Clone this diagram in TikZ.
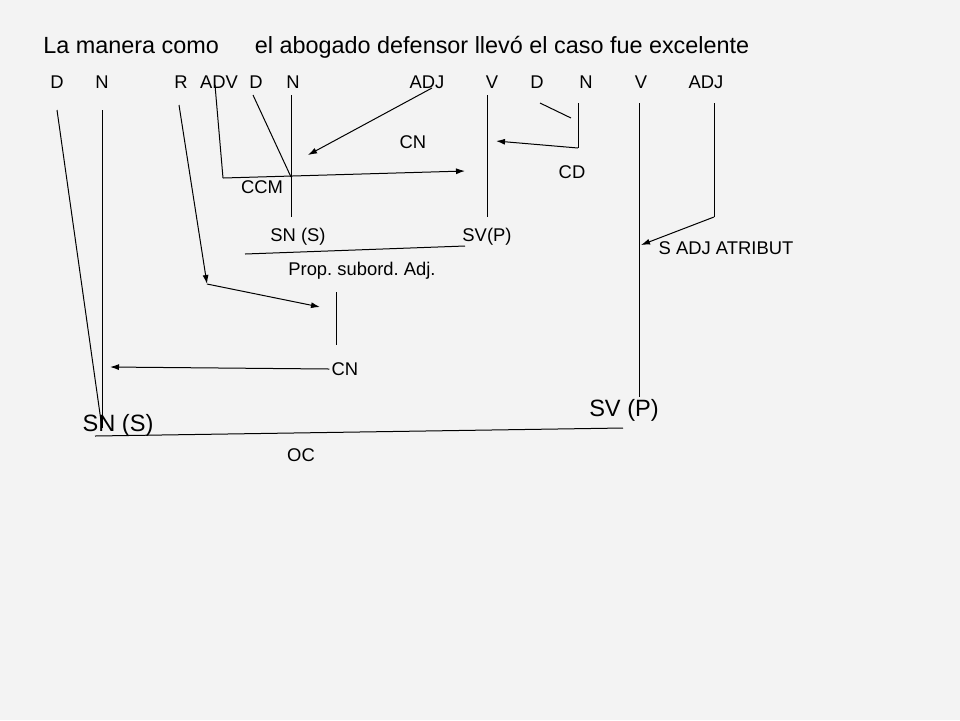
\documentclass[tikz,border=0pt]{standalone}
\usepackage{fontspec}
\setmainfont{Liberation Sans}
\usetikzlibrary{arrows.meta}
\definecolor{paper}{RGB}{243,243,243}
\frenchspacing

\begin{document}
\begin{tikzpicture}[x=0.5pt, y=-0.5pt,
  sentence/.style={font=\fontsize{11.7}{14}\selectfont, inner sep=0pt, anchor=west},
  cat/.style={font=\fontsize{9.2}{11}\selectfont, inner sep=1pt},
  fn/.style={font=\fontsize{9.2}{11}\selectfont, inner sep=1pt},
  big/.style={font=\fontsize{11.8}{13}\selectfont, inner sep=1pt},
  ln/.style={line width=0.5pt},
  arr/.style={-{Latex[length=4.5pt,width=3pt]}, line width=0.5pt}
]
  \useasboundingbox (0,0) rectangle (960,720);
  \fill[paper] (0,0) rectangle (960,720);

  % Sentence and word classes
  \node[sentence] at (43,47) (sent)
    {La manera como\hspace{18pt}el abogado defensor llevó el caso fue excelente};
  \node[cat] at (57,82)  (dA)   {D};
  \node[cat] at (102,82) (nA)   {N};
  \node[cat] at (181,82) (rel)  {R};
  \node[cat] at (219,82) (adv)  {ADV};
  \node[cat] at (256,82) (dB)   {D};
  \node[cat] at (293,82) (nB)   {N};
  \node[cat] at (427,82) (adjA) {ADJ};
  \node[cat] at (492,82) (vA)   {V};
  \node[cat] at (537,82) (dC)   {D};
  \node[cat] at (586,82) (nC)   {N};
  \node[cat] at (641,82) (vB)   {V};
  \node[cat] at (706,82) (adjB) {ADJ};

  % Functions
  \node[fn] at (413,142) (cnA)    {CN};
  \node[fn] at (262,187) (ccm)    {CCM};
  \node[fn] at (572,172) (cd)     {CD};
  \node[fn] at (298,237) (snS)    {SN (S)};
  \node[fn] at (487,237) (svP)    {SV(P)};
  \node[fn] at (362,271) (prop)   {Prop. subord. Adj.};
  \node[fn] at (726,248) (atrib)  {S ADJ ATRIBUT};
  \node[fn] at (345,369) (cnB)    {CN};
  \node[big] at (118,425) (snBig) {SN (S)};
  \node[big] at (624,410) (svBig) {SV (P)};
  \node[fn] at (301,455) (oc)     {OC};

  % Line ends
  \coordinate (dA-top)   at (57,110);
  \coordinate (nA-top)   at (102,110);
  \coordinate (sn-root)  at (102,428);
  \coordinate (rel-top)  at (179,105);
  \coordinate (rel-bend) at (207,284);
  \coordinate (rel-tip)  at (320,307);
  \coordinate (prop-a)   at (336,292);
  \coordinate (prop-b)   at (336,345);
  \coordinate (cn-tip)   at (110,367);
  \coordinate (adv-top)  at (215,85);
  \coordinate (adv-bend) at (223,178);
  \coordinate (adv-tip)  at (465,171);
  \coordinate (dB-top)   at (253,95);
  \coordinate (nB-top)   at (291,95);
  \coordinate (nB-root)  at (291,177);
  \coordinate (nB-bot)   at (291,217);
  \coordinate (adjA-top) at (432,88);
  \coordinate (adjA-tip) at (308,155);
  \coordinate (vA-top)   at (487,95);
  \coordinate (vA-bot)   at (487,217);
  \coordinate (sub-l)    at (245,254);
  \coordinate (sub-r)    at (465,246);
  \coordinate (dC-top)   at (540,103);
  \coordinate (dC-bot)   at (571,118);
  \coordinate (nC-top)   at (578,103);
  \coordinate (nC-bend)  at (578,148);
  \coordinate (nC-tip)   at (496,141);
  \coordinate (vB-top)   at (639,103);
  \coordinate (vB-bot)   at (639,397);
  \coordinate (adjB-top) at (714,103);
  \coordinate (adjB-bend) at (714,217);
  \coordinate (adjB-tip) at (641,245);
  \coordinate (oc-l)     at (95,436);
  \coordinate (oc-r)     at (623,428);

  % Subordinate clause
  \draw[ln]  (adv-top) -- (adv-bend);
  \draw[arr] (adv-bend) -- (adv-tip);
  \draw[ln]  (dB-top) -- (nB-root);
  \draw[ln]  (nB-top) -- (nB-bot);
  \draw[arr] (adjA-top) -- (adjA-tip);
  \draw[ln]  (vA-top) -- (vA-bot);
  \draw[ln]  (dC-top) -- (dC-bot);
  \draw[ln]  (nC-top) -- (nC-bend);
  \draw[arr] (nC-bend) -- (nC-tip);
  \draw[ln]  (sub-l) -- (sub-r);

  % Relative into CN
  \draw[arr] (rel-top) -- (rel-bend);
  \draw[arr] (rel-bend) -- (rel-tip);
  \draw[ln]  (prop-a) -- (prop-b);
  \draw[arr] (cnB.west) -- (cn-tip);

  % Main clause
  \draw[ln]  (dA-top) -- (sn-root);
  \draw[ln]  (nA-top) -- (sn-root);
  \draw[ln]  (vB-top) -- (vB-bot);
  \draw[ln]  (adjB-top) -- (adjB-bend);
  \draw[arr] (adjB-bend) -- (adjB-tip);
  \draw[ln]  (oc-l) -- (oc-r);

\end{tikzpicture}
\end{document}
